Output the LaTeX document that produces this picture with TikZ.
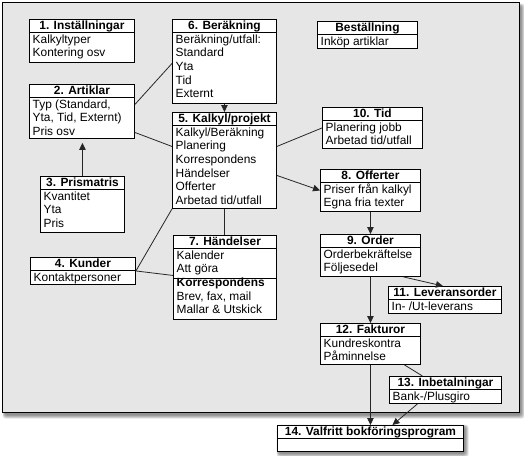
\documentclass[tikz,border=0pt]{standalone}
\usepackage{fontspec}
\setmainfont{Liberation Sans}
\usetikzlibrary{arrows.meta,calc}
\definecolor{panel}{HTML}{E6E6E6}
\newcommand\ubox[7]{%
  \node[ubox, minimum width=#4pt, minimum height=#5pt, anchor=north west] (#1) at (#2,-#3) {};
  \draw[uline] ([yshift=-13pt]#1.north west) -- ([yshift=-13pt]#1.north east);
  \node[utitle] at ([yshift=-10.5pt]#1.north) {#6};
  \foreach \t [count=\i] in {#7} \node[urow] at ([xshift=3.5pt,yshift={-24pt-(\i-1)*13.7pt}]#1.north west) {\t};
}
\begin{document}
\begin{tikzpicture}[x=1pt,y=1pt,font=\fontsize{11.9}{13.7}\selectfont,
  ubox/.style={draw, fill=white, inner sep=0, line width=0.9pt},
  uline/.style={line width=0.9pt},
  utitle/.style={font=\fontsize{11.9}{13.7}\selectfont\bfseries, anchor=base, inner sep=0},
  urow/.style={anchor=base west, inner sep=0},
  conn/.style={line width=0.8pt, draw=black!85},
  arr/.style={conn, -{Triangle[width=6.5pt,length=7pt]}}]
\useasboundingbox (0,0) rectangle (524,-455);
% panel shadow
\foreach \k in {1,...,6}
  \fill[black, opacity=0.09, rounded corners=3pt] ({2+3-\k*0.4},{-2-4+\k*0.4}) rectangle ({519+1.5+\k*0.7},{-412-2.5-\k*0.7});
\draw[fill=panel, line width=0.9pt] (2,-2) rectangle (519,-412);
% box 14 shadow
\foreach \k in {1,...,6}
  \fill[black, opacity=0.09, rounded corners=3pt] ({277+2-\k*0.4},{-425-2+\k*0.4}) rectangle ({463+1.5+\k*0.7},{-451-2-\k*0.7});

\ubox{a1}{29}{19}{105}{43}{1. Inställningar}{Kalkyltyper, Kontering osv}
\ubox{a6}{172}{19}{104}{84}{6. Beräkning}{Beräkning/utfall:, Standard, Yta, Tid, Externt}
\ubox{a2}{29}{84}{105}{54}{2. Artiklar}{{Typ (Standard,}, {Yta, Tid, Externt)}, Pris osv}
\ubox{a5}{172}{112}{104}{96}{5. Kalkyl/projekt}{Kalkyl/Beräkning, Planering, Korrespondens, Händelser, Offerter, Arbetad tid/utfall}
\ubox{a3}{40}{176}{84}{56}{3. Prismatris}{Kvantitet, Yta, Pris}
\ubox{a4}{30}{257}{105}{27}{4. Kunder}{Kontaktpersoner}
\ubox{a7}{173}{235}{103}{84}{7. Händelser}{Kalender, Att göra, \textbf{Korrespondens}, {Brev, fax, mail}, Mallar \& Utskick}
\draw[uline] ([yshift=-43pt]a7.north west) -- ([yshift=-43pt]a7.north east);
\ubox{ab}{317}{21}{100}{27}{Beställning}{Inköp artiklar}
\ubox{a10}{322}{107}{100}{41}{10. Tid}{Planering jobb, Arbetad tid/utfall}
\ubox{a8}{320}{169}{100}{42}{8. Offerter}{Priser från kalkyl, Egna fria texter}
\ubox{a9}{320}{234}{100}{42}{9. Order}{Orderbekräftelse, Följesedel}
\ubox{a11}{388}{286}{113}{27}{11. Leveransorder}{In- /Ut-leverans}
\ubox{a12}{320}{323}{100}{41}{12. Fakturor}{Kundreskontra, Påminnelse}
\ubox{a13}{389}{376}{112}{27}{13. Inbetalningar}{Bank-/Plusgiro}
\ubox{a14}{277}{425}{186}{26}{14. Valfritt bokföringsprogram}{}

% connectors
\draw[conn] ([yshift=7pt]a2.east) -- ([yshift=-2pt]a6.west);
\draw[conn] ([yshift=-21pt]a2.east) -- ([yshift=14pt]a5.west);
\draw[conn] (a5.south west) -- (a4.east);
\draw[conn] (a4.east) -- ([yshift=2pt]a7.west);
\draw[conn] (a5.south) -- (a5.south |- a7.north);
\draw[arr] (a6.south) -- (a5.north);
\draw[arr, shorten >=4pt] (a3.north) -- (a3.north |- a2.south);
\draw[conn] ([yshift=14pt]a5.east) -- (a10.west);
\draw[arr] ([yshift=-15pt]a5.east) -- (a8.west);
\draw[arr] (a8.south) -- (a9.north);
\draw[arr] ([xshift=33pt]a9.south) -- ([xshift=-2pt]a11.north);
\draw[arr] (a9.south) -- (a12.north);
\draw[conn] ([xshift=34pt]a12.south) -- ([xshift=-23pt]a13.north);
\draw[arr] (a12.south) -- (a12.south |- a14.north);
\draw[arr] ([xshift=-28pt]a13.south) -- ([xshift=22pt]a14.north);
\end{tikzpicture}
\end{document}
